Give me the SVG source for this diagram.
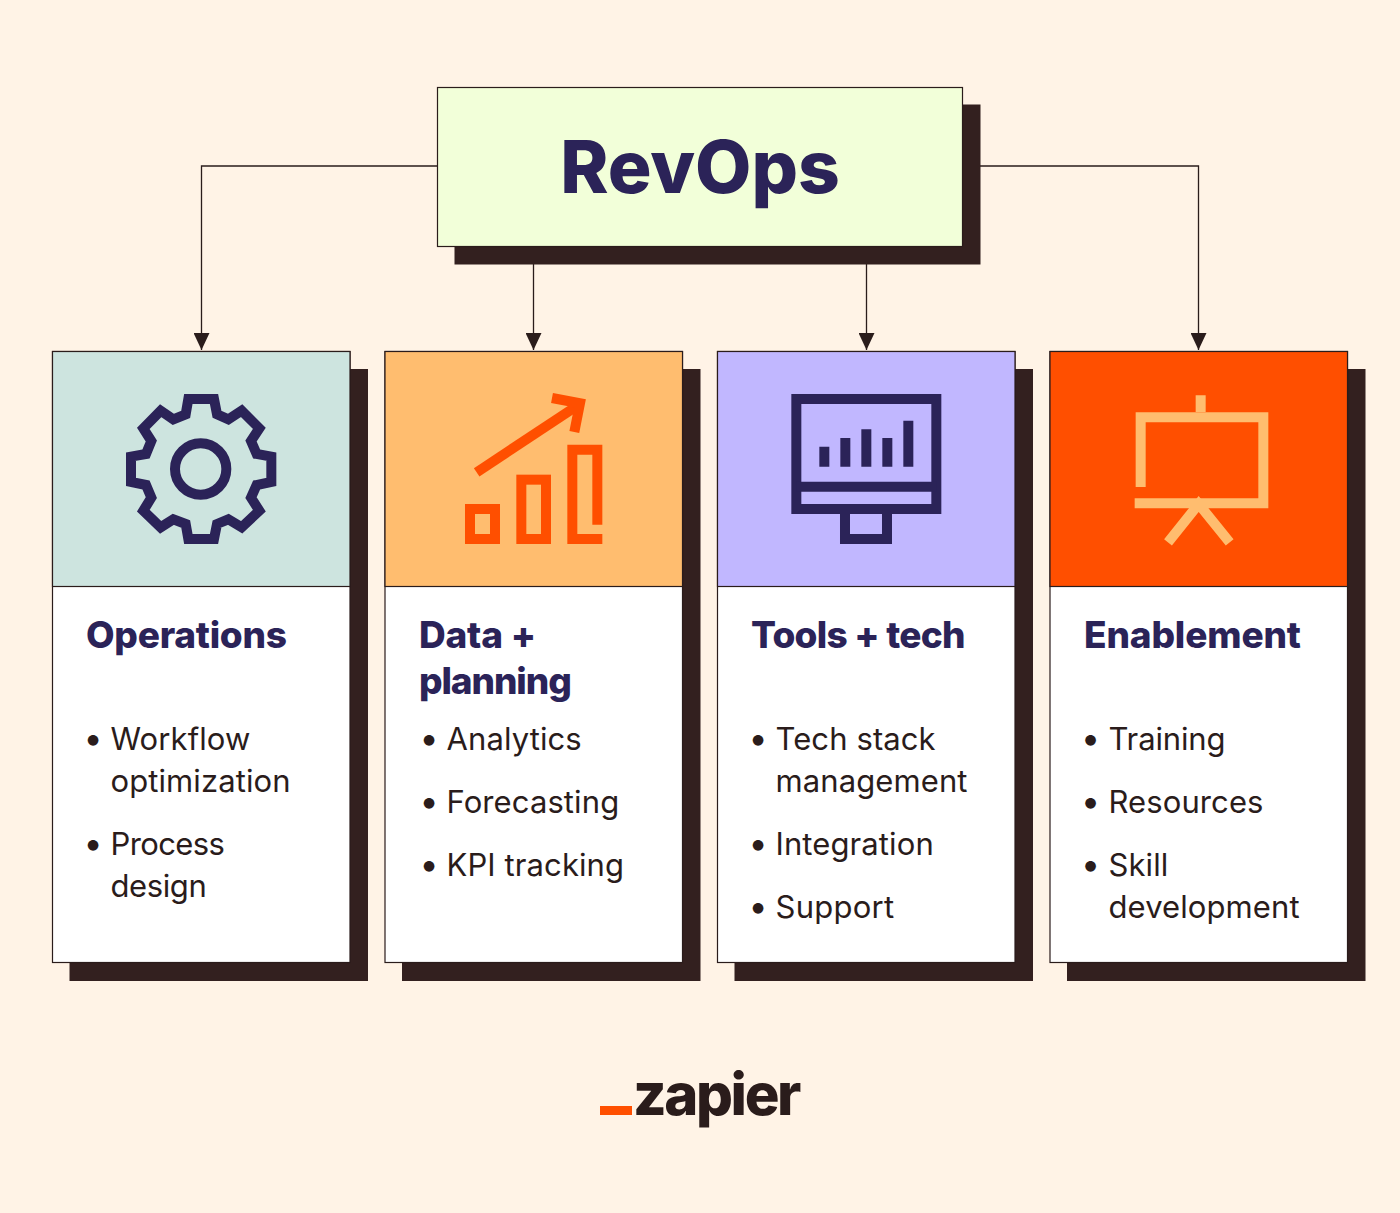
<svg xmlns="http://www.w3.org/2000/svg" width="1400" height="1213" viewBox="0 0 1400 1213">
<style>
.sh{fill:#33201f}
.bx{stroke:#2a1c1b;stroke-width:1.2}
.h{font-family:Inter,"Liberation Sans",sans-serif;font-weight:800;font-size:37px;letter-spacing:-1.1px;fill:#2b2358}
.t{font-family:Inter,"Liberation Sans",sans-serif;font-weight:400;font-size:31px;letter-spacing:.1px;fill:#2a1c1b}
.b{font-family:Inter,"Liberation Sans",sans-serif;font-size:34px;text-anchor:middle;fill:#2a1c1b}
.ic{fill:none;stroke-width:30;stroke-miterlimit:10}
.nv{stroke:#2b2358}.or{stroke:#ff4f00}.pe{stroke:#ffbd6f}
.c{fill:none;stroke:#2a1c1b;stroke-width:1.3}
</style>
<defs><marker id="a" markerUnits="userSpaceOnUse" markerWidth="18" markerHeight="16" refX="17" refY="8" orient="auto"><path d="M0 0L17 8L0 16Z" fill="#2a1c1b"/></marker></defs>
<rect width="1400" height="1213" fill="#fff3e6"/>
<g id="connectors">
<path class="c" marker-end="url(#a)" d="M438 166H201.500V350"/>
<path class="c" marker-end="url(#a)" d="M962 166H1198.500V350"/>
<path class="c" marker-end="url(#a)" d="M533.500 247V350"/>
<path class="c" marker-end="url(#a)" d="M866.500 247V350"/>
</g>
<g id="revops">
<rect class="sh" x="454.500" y="104.500" width="526" height="160"/>
<rect class="bx" x="437.500" y="87.500" width="525" height="159" fill="#f2ffd9"/>
<text x="700" y="193" text-anchor="middle" font-family="Inter,'Liberation Sans',sans-serif" font-weight="800" font-size="73" letter-spacing="-.1" fill="#2b2358">RevOps</text>
</g>
<g id="operations">
<rect class="sh" x="69.500" y="369" width="298.500" height="612"/>
<rect class="bx" x="52.500" y="351.500" width="297.500" height="611" fill="#fff"/>
<rect class="bx" x="52.500" y="351.500" width="297.500" height="235" fill="#cde4df"/>
<g transform="translate(100 370) scale(.33333)">
<path class="ic nv" d="M265 87H342L351 133L385 148L425 122L478 175L453 213L470 252L514 260V336L470 345L453 383L478 422L425 472L385 448L351 462L342 507H265L257 462L220 448L182 472L130 422L154 383L138 345L93 336V260L138 252L154 213L130 175L182 122L220 148L257 133Z"/>
<circle class="ic nv" cx="302" cy="297" r="77"/>
</g>
<text class="h" x="86" y="648" style="letter-spacing:-.25px">Operations</text>
<text class="b" x="93" y="749.500">•</text><text class="t" x="110.500" y="750">Workflow</text>
<text class="t" x="110.500" y="792">optimization</text>
<text class="b" x="93" y="854.500">•</text><text class="t" x="110.500" y="855" style="letter-spacing:-.6px">Process</text>
<text class="t" x="110.500" y="897" style="letter-spacing:-.4px">design</text>
</g>
<g id="data-planning">
<rect class="sh" x="402" y="369" width="298.500" height="612"/>
<rect class="bx" x="385" y="351.500" width="297.500" height="611" fill="#fff"/>
<rect class="bx" x="385" y="351.500" width="297.500" height="235" fill="#ffbd6f"/>
<g transform="translate(440 370) scale(.33333)">
<rect class="ic or" x="90" y="417" width="75" height="90"/>
<rect class="ic or" x="244" y="329" width="74" height="178"/>
<path class="ic or" d="M472 464V239H397V507H487"/>
<path class="ic or" d="M110 307L418 103"/>
<path class="ic or" d="M336 84L420 100L403 186"/>
</g>
<text class="h" x="419" y="648" style="letter-spacing:-.2px">Data +</text>
<text class="h" x="419" y="694">planning</text>
<text class="b" x="429" y="749.500">•</text><text class="t" x="446.500" y="750">Analytics</text>
<text class="b" x="429" y="812.500">•</text><text class="t" x="446.500" y="813">Forecasting</text>
<text class="b" x="429" y="875.500">•</text><text class="t" x="446.500" y="876">KPI tracking</text>
</g>
<g id="tools-tech">
<rect class="sh" x="734.500" y="369" width="298.500" height="612"/>
<rect class="bx" x="717.500" y="351.500" width="297.500" height="611" fill="#fff"/>
<rect class="bx" x="717.500" y="351.500" width="297.500" height="235" fill="#c1b7ff"/>
<g transform="translate(770 370) scale(.33333)">
<rect class="ic nv" x="79" y="87" width="420" height="330"/>
<path class="ic nv" d="M79 350H499M225 432V507H351V432"/>
<path fill="#2b2358" d="M148 230H178V290H148ZM211 204H241V290H211ZM274 178H304V290H274ZM337 204H367V290H337ZM400 152H430V290H400Z"/>
</g>
<text class="h" x="751" y="648" style="letter-spacing:-.75px">Tools + tech</text>
<text class="b" x="758" y="749.500">•</text><text class="t" x="775.500" y="750">Tech stack</text>
<text class="t" x="775.500" y="792">management</text>
<text class="b" x="758" y="854.500">•</text><text class="t" x="775.500" y="855">Integration</text>
<text class="b" x="758" y="917.500">•</text><text class="t" x="775.500" y="918" style="letter-spacing:.25px">Support</text>
</g>
<g id="enablement">
<rect class="sh" x="1067" y="369" width="298.500" height="612"/>
<rect class="bx" x="1050" y="351.500" width="297.500" height="611" fill="#fff"/>
<rect class="bx" x="1050" y="351.500" width="297.500" height="235" fill="#ff4f00"/>
<g transform="translate(1100 370) scale(.33333)">
<path class="ic pe" d="M302 76V126M122 351V142H490V400H104"/>
<path class="ic pe" d="M204 517L296 402L389 517" stroke-miterlimit="1"/>
</g>
<text class="h" x="1084" y="648" style="letter-spacing:-.15px">Enablement</text>
<text class="b" x="1090.500" y="749.500">•</text><text class="t" x="1108.500" y="750" style="letter-spacing:-.15px">Training</text>
<text class="b" x="1090.500" y="812.500">•</text><text class="t" x="1108.500" y="813">Resources</text>
<text class="b" x="1090.500" y="875.500">•</text><text class="t" x="1108.500" y="876">Skill</text>
<text class="t" x="1108.500" y="918">development</text>
</g>
<g id="logo">
<rect x="600" y="1106" width="32" height="9" fill="#ff4f00"/>
<text x="633" y="1115" font-family="Inter,'Liberation Sans',sans-serif" font-weight="800" font-size="58" letter-spacing="-2.4" fill="#2a1c1b">zapier</text>
</g>
</svg>
